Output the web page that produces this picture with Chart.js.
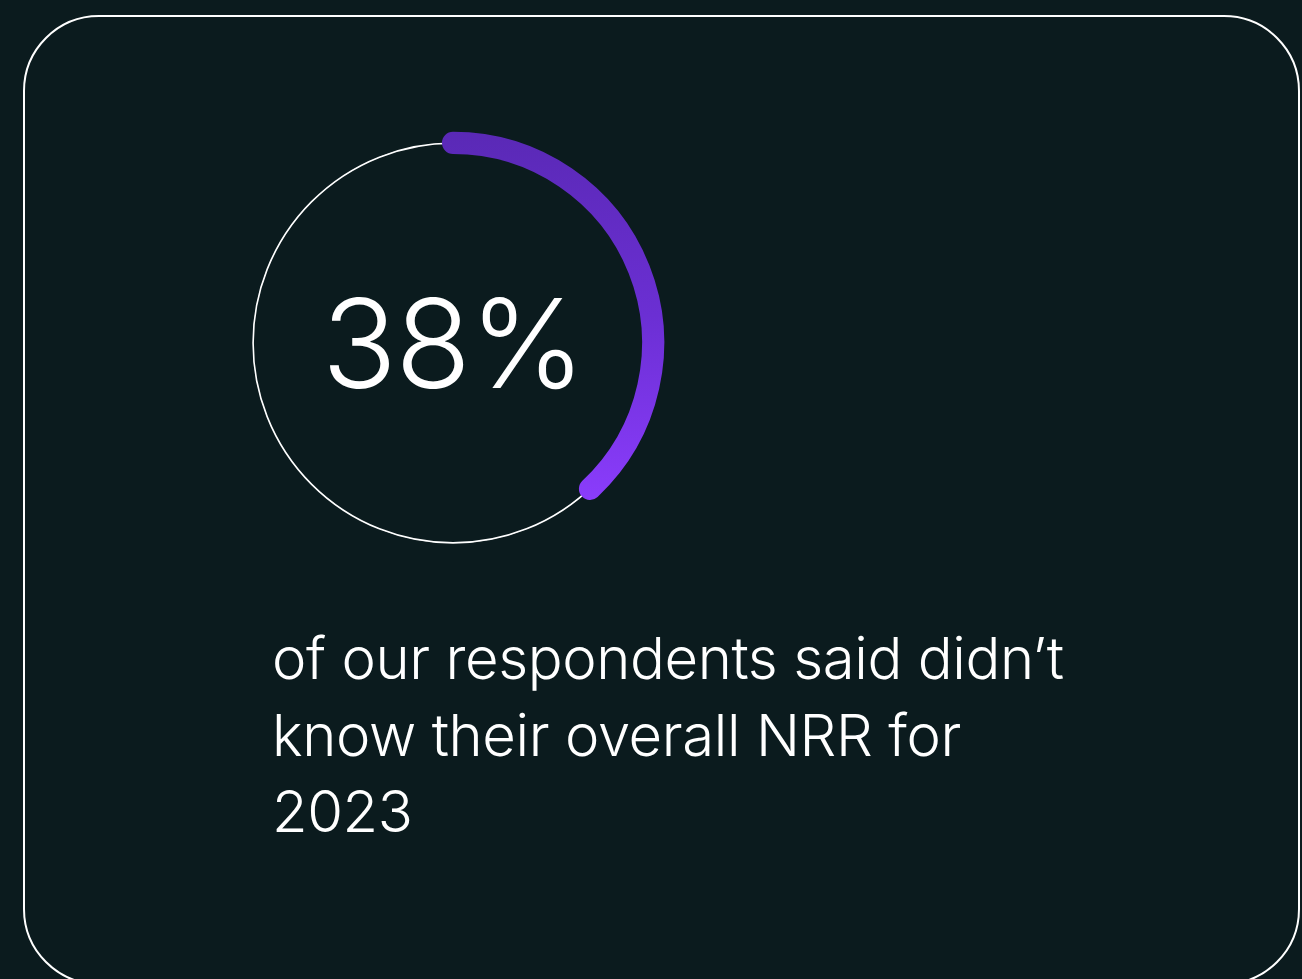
<!DOCTYPE html>
<html>
<head>
<meta charset="utf-8">
<script src="https://cdn.jsdelivr.net/npm/chart.js@4/dist/chart.umd.min.js"></script>
<style>
  html, body { margin: 0; padding: 0; }
  body {
    width: 1302px; height: 979px; overflow: hidden; position: relative;
    background: #0b1b1e; font-family: Inter, "Noto Sans", sans-serif; color: #ffffff;
  }
  .card {
    position: absolute; left: 23px; top: 15px; width: 1277px; height: 970px;
    box-sizing: border-box; border: 2px solid #ffffff; border-radius: 76px;
  }
  #ringWrap { position: absolute; left: 223px; top: 113px; width: 460px; height: 460px; }
  .big {
    position: absolute; left: 223px; top: 281px; width: 460px; height: 124px;
    line-height: 124px; text-align: center; font-size: 124px; font-weight: 300;
    letter-spacing: -1.5px;
  }
  .caption {
    position: absolute; left: 272px; top: 620px; width: 900px;
    font-size: 58px; line-height: 76.5px; font-weight: 300; letter-spacing: -0.4px;
    white-space: nowrap;
  }
</style>
</head>
<body>
<div class="card"></div>
<div id="ringWrap"><canvas id="ring" width="460" height="460"></canvas></div>
<div class="big" id="bigValue"></div>
<div class="caption" id="caption"></div>
<script>
// Share of respondents who didn't know their 2023 NRR, and the remainder
const segments = ['Did not know', 'Other'];
const share = [38, 62];
// Full reference ring behind the progress arc
const ringTrack = [100];
const captionLines = ['of our respondents said didn’t', 'know their overall NRR for', '2023'];

document.getElementById('bigValue').textContent = share[0] + '%';
const cap = document.getElementById('caption');
captionLines.forEach((line, i) => {
  if (i) cap.appendChild(document.createElement('br'));
  cap.appendChild(document.createTextNode(line));
});

// Purple progress colour: darker at the top of the arc, brighter towards its end
function progressColor(c) {
  if (c.dataIndex !== 0) return 'rgba(0,0,0,0)';
  const { ctx, chartArea } = c.chart;
  if (!chartArea) return '#6d30d6';
  const g = ctx.createLinearGradient(0, chartArea.top + 19, 0, chartArea.top + 385);
  g.addColorStop(0, '#5a29b6');
  g.addColorStop(0.5, '#6b2fd3');
  g.addColorStop(1, '#8a3cfb');
  return g;
}

new Chart(document.getElementById('ring'), {
  type: 'doughnut',
  data: {
    labels: segments,
    datasets: [
      {
        data: share,
        backgroundColor: progressColor,
        borderColor: progressColor,
        borderWidth: (c) => (c.dataIndex === 0 ? 22 : 0),
        borderJoinStyle: 'round',
        borderAlign: 'center'
      },
      {
        data: ringTrack,
        backgroundColor: '#ffffff',
        borderColor: '#ffffff',
        borderWidth: 1.4,
        borderAlign: 'center'
      }
    ]
  },
  options: {
    responsive: false,
    animation: false,
    events: [],
    radius: 200.2,
    cutout: '99.8%',
    rotation: 0,
    layout: { padding: 0 },
    plugins: { legend: { display: false }, tooltip: { enabled: false } }
  }
});
</script>
</body>
</html>
